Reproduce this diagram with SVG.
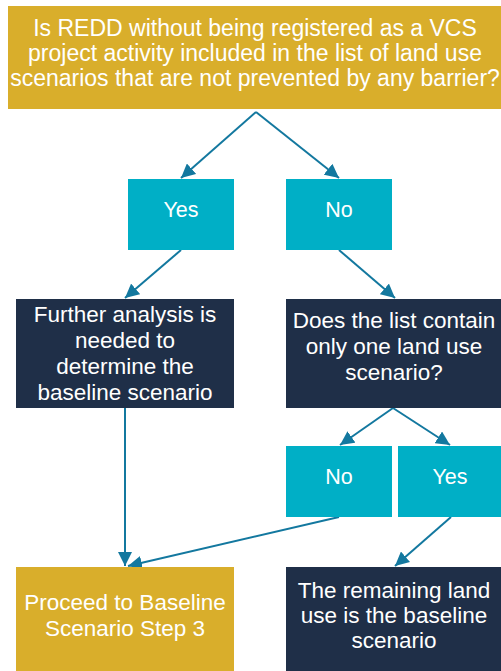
<svg xmlns="http://www.w3.org/2000/svg" width="501" height="671" viewBox="0 0 501 671">
<style>
.gold{fill:#D9AE2B}
.cyan{fill:#00AFC6}
.navy{fill:#1F2F48}
.t{font-family:"Liberation Sans",Arial,sans-serif;fill:#fff;text-anchor:middle}
.q{font-size:23px}
.b{font-size:22.5px}
.y{font-size:21.5px}
.c{stroke:#13789F;stroke-width:2;fill:none;marker-end:url(#ah)}
</style>
<defs>
<marker id="ah" markerUnits="userSpaceOnUse" markerWidth="16" markerHeight="14" refX="14" refY="7" orient="auto">
<path d="M0,0 L14,7 L0,14 z" fill="#13789F"/>
</marker>
</defs>
<rect width="501" height="671" fill="#fff"/>
<g id="connectors">
<line class="c" x1="256" y1="112" x2="181" y2="178"/>
<line class="c" x1="256" y1="112" x2="339" y2="178"/>
<line class="c" x1="181" y1="250" x2="125" y2="298"/>
<line class="c" x1="339" y1="250" x2="395" y2="298"/>
<line class="c" x1="393" y1="408" x2="340" y2="445"/>
<line class="c" x1="393" y1="408" x2="450" y2="445"/>
<line class="c" x1="125" y1="408" x2="125" y2="566"/>
<line class="c" x1="339" y1="517" x2="128" y2="566"/>
<line class="c" x1="451" y1="517" x2="395" y2="566"/>
</g>
<g id="q1">
<rect class="gold" x="8" y="6" width="493" height="103"/>
<text class="t q" x="255" y="36">Is REDD without being registered as a VCS</text>
<text class="t q" x="255" y="61">project activity included in the list of land use</text>
<text class="t q" x="255" y="86">scenarios that are not prevented by any barrier?</text>
</g>
<g id="yes1">
<rect class="cyan" x="128" y="179" width="106" height="71"/>
<text class="t y" x="181" y="217">Yes</text>
</g>
<g id="no1">
<rect class="cyan" x="286" y="179" width="106" height="71"/>
<text class="t y" x="339" y="217">No</text>
</g>
<g id="further">
<rect class="navy" x="16" y="299" width="218" height="109"/>
<text class="t b" x="125" y="322">Further analysis is</text>
<text class="t b" x="125" y="348">needed to</text>
<text class="t b" x="125" y="374">determine the</text>
<text class="t b" x="125" y="400">baseline scenario</text>
</g>
<g id="q2">
<rect class="navy" x="286" y="299" width="215" height="109"/>
<text class="t b" x="394" y="328">Does the list contain</text>
<text class="t b" x="394" y="354">only one land use</text>
<text class="t b" x="394" y="380">scenario?</text>
</g>
<g id="no2">
<rect class="cyan" x="286" y="446" width="106" height="71"/>
<text class="t y" x="339" y="484">No</text>
</g>
<g id="yes2">
<rect class="cyan" x="398" y="446" width="103" height="71"/>
<text class="t y" x="450" y="484">Yes</text>
</g>
<g id="proceed">
<rect class="gold" x="16" y="567" width="218" height="104"/>
<text class="t b" x="125" y="610">Proceed to Baseline</text>
<text class="t b" x="125" y="636">Scenario Step 3</text>
</g>
<g id="remaining">
<rect class="navy" x="286" y="567" width="215" height="104"/>
<text class="t b" x="394" y="598">The remaining land</text>
<text class="t b" x="394" y="623">use is the baseline</text>
<text class="t b" x="394" y="648">scenario</text>
</g>
</svg>
